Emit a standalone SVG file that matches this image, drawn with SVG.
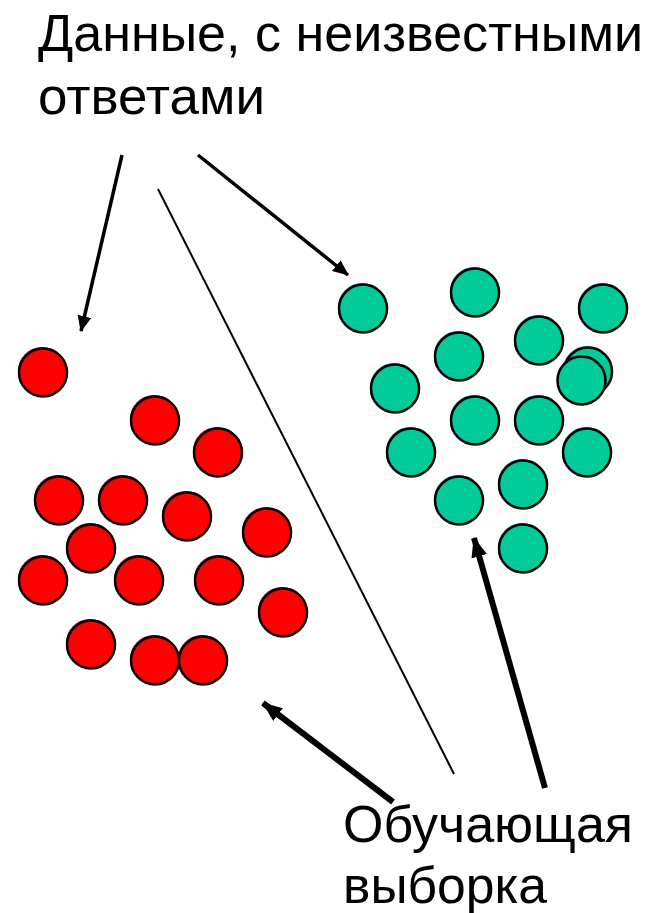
<svg xmlns="http://www.w3.org/2000/svg" width="652" height="913" viewBox="0 0 652 913">
<style>
.t{font-family:"Liberation Sans",Arial,sans-serif;font-size:52px;fill:#000}
.r{fill:#FF0000;stroke:#000;stroke-width:2.5}
.g{fill:#00CC99;stroke:#000;stroke-width:2.5}
.rs{fill:#FF0000}
.gs{fill:#00CC99}
.a1{stroke:#000;stroke-width:3.5;fill:none}
.a2{stroke:#000;stroke-width:6;fill:none}
.thin{stroke:#000;stroke-width:2;fill:none}
</style>
<defs>
<marker id="hs" markerUnits="userSpaceOnUse" viewBox="0 0 16 14" refX="15" refY="7" markerWidth="16" markerHeight="14" orient="auto">
<path d="M0,0 L16,7 L0,14 Z" fill="#000"/>
</marker>
<marker id="hl" markerUnits="userSpaceOnUse" viewBox="0 0 20 16" refX="19" refY="8" markerWidth="20" markerHeight="16" orient="auto">
<path d="M0,0 L20,8 L0,16 Z" fill="#000"/>
</marker>
</defs>
<g id="label-top">
<text class="t" x="38" y="51" textLength="605" lengthAdjust="spacingAndGlyphs">Данные,  с неизвестными</text>
<text class="t" x="38" y="114" textLength="227" lengthAdjust="spacingAndGlyphs">ответами</text>
</g>
<g id="label-bottom">
<text class="t" x="343" y="842" textLength="290" lengthAdjust="spacingAndGlyphs">Обучающая</text>
<text class="t" x="343" y="903" textLength="204" lengthAdjust="spacingAndGlyphs">выборка</text>
</g>
<g id="red">
<g id="r1"><circle class="rs" cx="42" cy="371" r="24"/><circle class="r" cx="43" cy="372.5" r="24"/></g>
<g id="r2"><circle class="rs" cx="154" cy="419" r="24"/><circle class="r" cx="155" cy="420.5" r="24"/></g>
<g id="r3"><circle class="rs" cx="217" cy="451" r="24"/><circle class="r" cx="218" cy="452.5" r="24"/></g>
<g id="r4"><circle class="rs" cx="58" cy="499" r="24"/><circle class="r" cx="59" cy="500.5" r="24"/></g>
<g id="r5"><circle class="rs" cx="122" cy="499" r="24"/><circle class="r" cx="123" cy="500.5" r="24"/></g>
<g id="r6"><circle class="rs" cx="186" cy="515" r="24"/><circle class="r" cx="187" cy="516.5" r="24"/></g>
<g id="r7"><circle class="rs" cx="266" cy="531" r="24"/><circle class="r" cx="267" cy="532.5" r="24"/></g>
<g id="r8"><circle class="rs" cx="90" cy="547" r="24"/><circle class="r" cx="91" cy="548.5" r="24"/></g>
<g id="r9"><circle class="rs" cx="42" cy="579" r="24"/><circle class="r" cx="43" cy="580.5" r="24"/></g>
<g id="r10"><circle class="rs" cx="138" cy="579" r="24"/><circle class="r" cx="139" cy="580.5" r="24"/></g>
<g id="r11"><circle class="rs" cx="218" cy="579" r="24"/><circle class="r" cx="219" cy="580.5" r="24"/></g>
<g id="r12"><circle class="rs" cx="282" cy="611" r="24"/><circle class="r" cx="283" cy="612.5" r="24"/></g>
<g id="r13"><circle class="rs" cx="90" cy="643" r="24"/><circle class="r" cx="91" cy="644.5" r="24"/></g>
<g id="r14"><circle class="rs" cx="154" cy="659" r="24"/><circle class="r" cx="155" cy="660.5" r="24"/></g>
<g id="r15"><circle class="rs" cx="202" cy="659" r="24"/><circle class="r" cx="203" cy="660.5" r="24"/></g>
</g>
<g id="green">
<g id="g1"><circle class="gs" cx="362" cy="307" r="24"/><circle class="g" cx="363" cy="308.5" r="24"/></g>
<g id="g2"><circle class="gs" cx="474" cy="291" r="24"/><circle class="g" cx="475" cy="292.5" r="24"/></g>
<g id="g3"><circle class="gs" cx="602" cy="307" r="24"/><circle class="g" cx="603" cy="308.5" r="24"/></g>
<g id="g4"><circle class="gs" cx="538" cy="339" r="24"/><circle class="g" cx="539" cy="340.5" r="24"/></g>
<g id="g5"><circle class="gs" cx="458" cy="355" r="24"/><circle class="g" cx="459" cy="356.5" r="24"/></g>
<g id="g6"><circle class="gs" cx="587" cy="370" r="24"/><circle class="g" cx="588" cy="371.5" r="24"/><circle class="g" cx="581.5" cy="380.5" r="24"/></g>
<g id="g7"><circle class="gs" cx="394" cy="387" r="24"/><circle class="g" cx="395" cy="388.5" r="24"/></g>
<g id="g8"><circle class="gs" cx="474" cy="419" r="24"/><circle class="g" cx="475" cy="420.5" r="24"/></g>
<g id="g9"><circle class="gs" cx="538" cy="419" r="24"/><circle class="g" cx="539" cy="420.5" r="24"/></g>
<g id="g10"><circle class="gs" cx="410" cy="451" r="24"/><circle class="g" cx="411" cy="452.5" r="24"/></g>
<g id="g11"><circle class="gs" cx="586" cy="451" r="24"/><circle class="g" cx="587" cy="452.5" r="24"/></g>
<g id="g12"><circle class="gs" cx="522" cy="483" r="24"/><circle class="g" cx="523" cy="484.5" r="24"/></g>
<g id="g13"><circle class="gs" cx="458" cy="499" r="24"/><circle class="g" cx="459" cy="500.5" r="24"/></g>
<g id="g14"><circle class="gs" cx="522" cy="547" r="24"/><circle class="g" cx="523" cy="548.5" r="24"/></g>
</g>
<g id="connectors">
<line class="a1" x1="122" y1="155" x2="81" y2="331" marker-end="url(#hs)"/>
<line class="a1" x1="198" y1="155" x2="348" y2="275" marker-end="url(#hs)"/>
<line class="thin" x1="158" y1="189" x2="454" y2="774"/>
<line class="a2" x1="393" y1="802" x2="263" y2="703" marker-end="url(#hl)"/>
<line class="a2" x1="545" y1="788" x2="474" y2="538" marker-end="url(#hl)"/>
</g>
</svg>
